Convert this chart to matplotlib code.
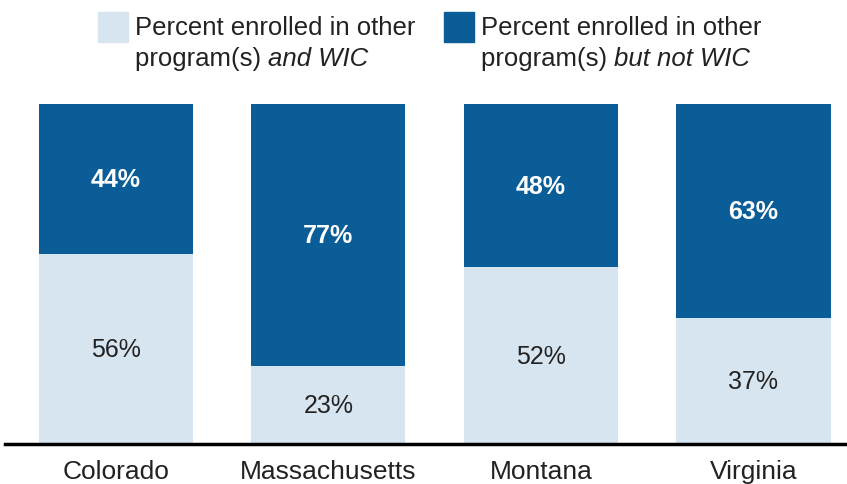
import matplotlib.pyplot as plt
from matplotlib.patches import Rectangle

states = ['Colorado', 'Massachusetts', 'Montana', 'Virginia']
with_wic = [56, 23, 52, 37]
without_wic = [44, 77, 48, 63]

light = '#d7e5f0'
dark = '#0b5d98'

plt.rcParams['font.family'] = ['Liberation Sans', 'DejaVu Sans']

fig = plt.figure(figsize=(8.47, 4.85), dpi=100)
ax = fig.add_axes([5 / 847, 40 / 485, 842 / 847, 340 / 485])

x = list(range(len(states)))
w = 0.725
ax.bar(x, with_wic, width=w, color=light)
ax.bar(x, without_wic, width=w, bottom=with_wic, color=dark)

for i in x:
    ax.text(i, with_wic[i] / 2, f'{with_wic[i]}%', ha='center', va='center',
            fontsize=18, color='#222222')
    ax.text(i, with_wic[i] + without_wic[i] / 2, f'{without_wic[i]}%',
            ha='center', va='center', fontsize=18, color='white',
            fontweight='bold')

ax.set_xlim(-0.522, 3.44)
ax.set_ylim(0, 100)
ax.set_xticks(x)
ax.set_xticklabels(states, fontsize=19, color='#222222')
ax.tick_params(axis='x', length=0, pad=10.5)
ax.set_yticks([])
for s in ['top', 'right', 'left']:
    ax.spines[s].set_visible(False)
ax.spines['bottom'].set_linewidth(2.5)

# legend drawn by hand
def leg(x0, color, italic):
    fig.patches.append(Rectangle((x0 / 847, 1 - 43 / 485), 30 / 847, 30 / 485,
                                 transform=fig.transFigure, color=color))
    tx = (x0 + 37) / 847
    fig.text(tx, 1 - 28 / 485, 'Percent enrolled in other', fontsize=18.5,
             va='center', color='#222222')
    t = fig.text(tx, 1 - 59 / 485, 'program(s) ', fontsize=18.5,
                 va='center', color='#222222')
    fig.canvas.draw()
    bb = t.get_window_extent()
    fig.text(bb.x1 / fig.bbox.width, 1 - 59 / 485, italic, fontsize=18.5,
             va='center', style='italic', color='#222222')

leg(98, light, 'and WIC')
leg(444, dark, 'but not WIC')

fig.savefig('out.png', dpi=100)
